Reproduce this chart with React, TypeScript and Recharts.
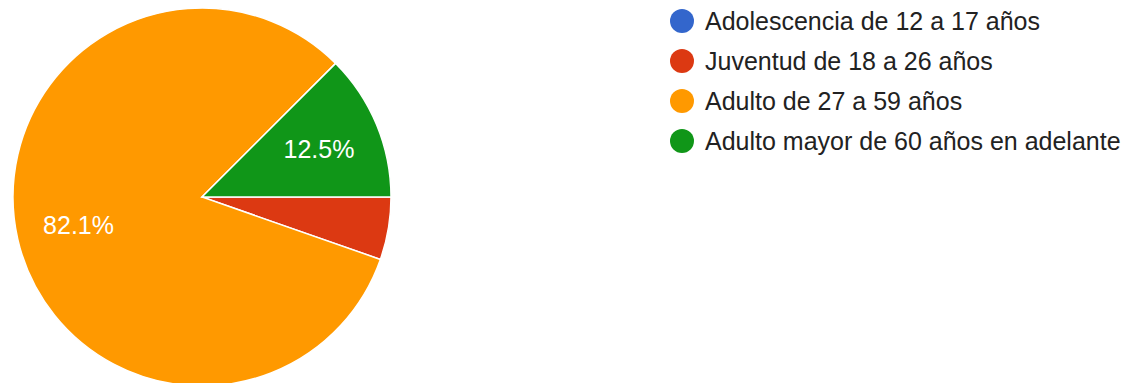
import { PieChart, Pie, Cell, Legend } from "recharts";

const categories = [
  "Adolescencia de 12 a 17 años",
  "Juventud de 18 a 26 años",
  "Adulto de 27 a 59 años",
  "Adulto mayor de 60 años en adelante",
];
const counts = [0, 3, 46, 7];
const colors = ["#3366cc", "#dc3912", "#ff9900", "#109618"];

const data = categories.map((name, i) => ({ name, value: counts[i] }));

const FONT = "Arial, 'Liberation Sans', sans-serif";
const RAD = Math.PI / 180;

// percentage label inside the slice, skipped for small slices
function renderLabel(props: any) {
  const { cx, cy, midAngle, outerRadius, percent } = props;
  if (percent < 0.1) return null;
  const r = outerRadius * 0.67;
  const x = cx + r * Math.cos(-midAngle * RAD);
  const y = cy + r * Math.sin(-midAngle * RAD);
  return (
    <text
      x={x}
      y={y}
      fill="#ffffff"
      textAnchor="middle"
      dominantBaseline="central"
      fontSize={25}
      fontFamily={FONT}
    >
      {(percent * 100).toFixed(1)}%
    </text>
  );
}

function LegendList() {
  return (
    <div style={{ fontFamily: FONT, fontSize: 25, color: "#222222" }}>
      {categories.map((name, i) => (
        <div key={name} style={{ display: "flex", alignItems: "center", height: 40 }}>
          <span
            style={{
              display: "inline-block",
              width: 24,
              height: 24,
              borderRadius: "50%",
              background: colors[i],
              marginRight: 11,
            }}
          />
          <span style={{ whiteSpace: "nowrap" }}>{name}</span>
        </div>
      ))}
    </div>
  );
}

export default function App() {
  return (
    <div style={{ position: "absolute", left: 0, top: 0, width: 1143, height: 383, background: "#fff" }}>
      <PieChart width={1143} height={383} margin={{ top: 0, right: 0, bottom: 0, left: 0 }}>
        <Pie
          data={data}
          dataKey="value"
          nameKey="name"
          cx={202}
          cy={197}
          outerRadius={189}
          startAngle={0}
          endAngle={-360}
          stroke="#ffffff"
          strokeWidth={1.5}
          label={renderLabel}
          labelLine={false}
          isAnimationActive={false}
        >
          {data.map((d, i) => (
            <Cell key={d.name} fill={colors[i]} />
          ))}
        </Pie>
        <Legend
          content={() => <LegendList />}
          wrapperStyle={{ position: "absolute", left: 670, top: 1, width: 473 }}
        />
      </PieChart>
    </div>
  );
}
